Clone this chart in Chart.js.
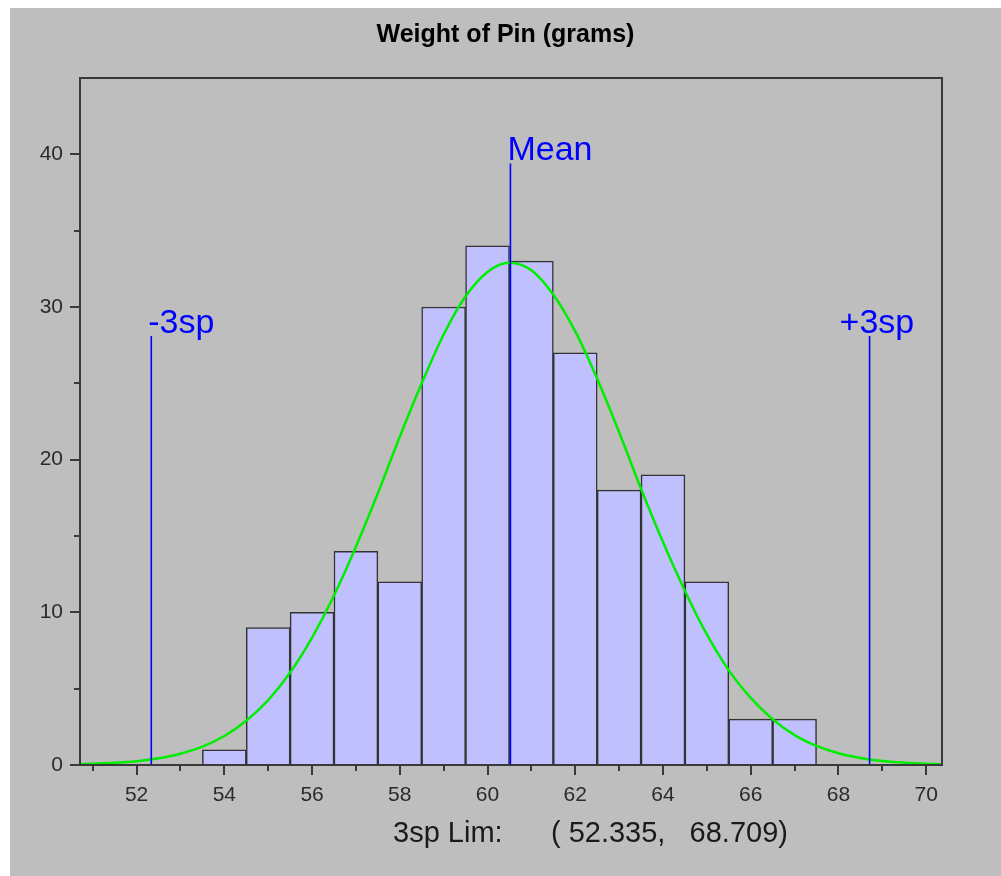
<!DOCTYPE html>
<html>
<head>
<meta charset="utf-8">
<title>Weight of Pin (grams)</title>
<script src="https://cdn.jsdelivr.net/npm/chart.js@4.4.1/dist/chart.umd.min.js"></script>
<style>
  html, body { margin: 0; padding: 0; background: #ffffff; }
  #frame {
    position: absolute;
    left: 10px;
    top: 8px;
    width: 991px;
    height: 868px;
    background: #bebebe;
  }
</style>
</head>
<body>
<div id="frame"><canvas id="chart" role="img" aria-label="Weight of Pin (grams) histogram"></canvas></div>
<script>
// Histogram of pin weights, fitted normal curve and the +/-3 sigma limits.

const BIN_CENTERS = [54, 55, 56, 57, 58, 59, 60, 61, 62, 63, 64, 65, 66, 67];
const BIN_COUNTS = [1, 9, 10, 14, 12, 30, 34, 33, 27, 18, 19, 12, 3, 3];

// fitted curve, every half gram
const CURVE_X = [50.71, 51, 51.5, 52, 52.5, 53, 53.5, 54, 54.5, 55, 55.5, 56, 56.5,
  57, 57.5, 58, 58.5, 59, 59.5, 60, 60.5, 61, 61.5, 62, 62.5, 63, 63.5, 64, 64.5,
  65, 65.5, 66, 66.5, 67, 67.5, 68, 68.5, 69, 69.5, 70, 70.36];
const CURVE_Y = [0.05, 0.08, 0.14, 0.25, 0.44, 0.74, 1.2, 1.9, 2.9, 4.25, 6.06, 8.35, 11.1,
  14.3, 17.8, 21.5, 25.0, 28.2, 30.7, 32.3, 32.9, 32.4, 30.8, 28.4, 25.3, 21.8, 18.1,
  14.6, 11.4, 8.55, 6.2, 4.4, 3.0, 1.96, 1.25, 0.77, 0.46, 0.26, 0.15, 0.08, 0.05];

const MARKER_NAMES = ["-3sp", "Mean", "+3sp"];
const MARKER_VALUES = [52.335, 60.522, 68.709];
const MARKER_TOPS = [28.1, 39.4, 28.1];

const X_TICKS = [52, 54, 56, 58, 60, 62, 64, 66, 68, 70];
const X_MINOR = [51, 53, 55, 57, 59, 61, 63, 65, 67, 69];
const Y_TICKS = [0, 10, 20, 30, 40];
const Y_MINOR = [5, 15, 25, 35];

const TITLE = "Weight of Pin (grams)";
const FOOTER = "3sp Lim:      ( 52.335,   68.709)";

const FONT = "'Liberation Sans', Arial, Helvetica, sans-serif";
const INK = "#3a3a3a";

// frame, tick marks, marker labels, title and footer
const decor = {
  id: "decor",
  afterDatasetsDraw(chart) {
    const { ctx, chartArea: a, scales } = chart;
    const xs = scales.x;
    const ys = scales.y;
    ctx.save();

    ctx.strokeStyle = INK;
    ctx.lineWidth = 2;
    ctx.strokeRect(a.left, a.top, a.right - a.left, a.bottom - a.top);

    ctx.beginPath();
    const tickX = (v, len) => {
      const px = Math.round(xs.getPixelForValue(v));
      ctx.moveTo(px, a.bottom);
      ctx.lineTo(px, a.bottom + len);
    };
    const tickY = (v, len) => {
      const py = Math.round(ys.getPixelForValue(v));
      ctx.moveTo(a.left, py);
      ctx.lineTo(a.left - len, py);
    };
    X_TICKS.forEach((v) => tickX(v, 10));
    X_MINOR.forEach((v) => tickX(v, 6));
    Y_TICKS.forEach((v) => tickY(v, 10));
    Y_MINOR.forEach((v) => tickY(v, 6));
    ctx.stroke();

    // labels sit on top of each marker line
    const shifts = [-3, -3, -30];
    ctx.fillStyle = "#0000ff";
    ctx.font = `34px ${FONT}`;
    ctx.textBaseline = "alphabetic";
    ctx.textAlign = "left";
    MARKER_NAMES.forEach((name, i) => {
      const meta = chart.getDatasetMeta(2 + i);
      const top = meta.data[1];
      ctx.fillText(name, top.x + shifts[i], top.y - 3);
    });

    ctx.fillStyle = "#000000";
    ctx.font = `bold 25px ${FONT}`;
    ctx.textAlign = "center";
    ctx.fillText(TITLE, chart.width / 2, 34);

    ctx.fillStyle = "#1a1a1a";
    ctx.font = `29px ${FONT}`;
    ctx.textAlign = "left";
    ctx.fillText(FOOTER, a.left + 313, a.bottom + 77);

    ctx.restore();
  },
};

function axis(ticks, extra) {
  return {
    type: "linear",
    offset: false,
    grid: { display: false, drawTicks: false, offset: false },
    border: { display: false },
    ticks: {
      color: "#2b2b2b",
      font: { family: FONT, size: 21 },
      autoSkip: false,
      maxRotation: 0,
    },
    afterBuildTicks: (s) => {
      s.ticks = ticks.map((v) => ({ value: v }));
    },
    ...extra,
  };
}

const x = axis(X_TICKS, { min: 50.71, max: 70.36, afterFit: (s) => { s.height = 111; } });
x.ticks.padding = 18;
const y = axis(Y_TICKS, { min: 0, max: 45, afterFit: (s) => { s.width = 70; } });
y.ticks.padding = 17;

const datasets = [
  {
    type: "bar",
    data: BIN_CENTERS.map((c, i) => ({ x: c, y: BIN_COUNTS[i] })),
    backgroundColor: "#c0c0ff",
    borderColor: "#333333",
    borderWidth: 1.5,
    barPercentage: 1,
    categoryPercentage: 1,
    order: 3,
  },
  {
    type: "line",
    data: CURVE_X.map((cx, i) => ({ x: cx, y: CURVE_Y[i] })),
    borderColor: "#00ee00",
    borderWidth: 2.5,
    pointRadius: 0,
    cubicInterpolationMode: "monotone",
    fill: false,
    order: 2,
  },
];
MARKER_VALUES.forEach((v, i) => {
  datasets.push({
    type: "line",
    data: [{ x: v, y: 0 }, { x: v, y: MARKER_TOPS[i] }],
    borderColor: "#0000ff",
    borderWidth: 1.6,
    pointRadius: 0,
    fill: false,
    order: 1,
  });
});

new Chart(document.getElementById("chart"), {
  type: "bar",
  data: { datasets },
  options: {
    responsive: true,
    maintainAspectRatio: false,
    animation: false,
    layout: { padding: { top: 70, right: 59, left: 0, bottom: 0 } },
    plugins: { legend: { display: false }, tooltip: { enabled: false }, title: { display: false } },
    scales: { x, y },
  },
  plugins: [decor],
});
</script>
</body>
</html>
